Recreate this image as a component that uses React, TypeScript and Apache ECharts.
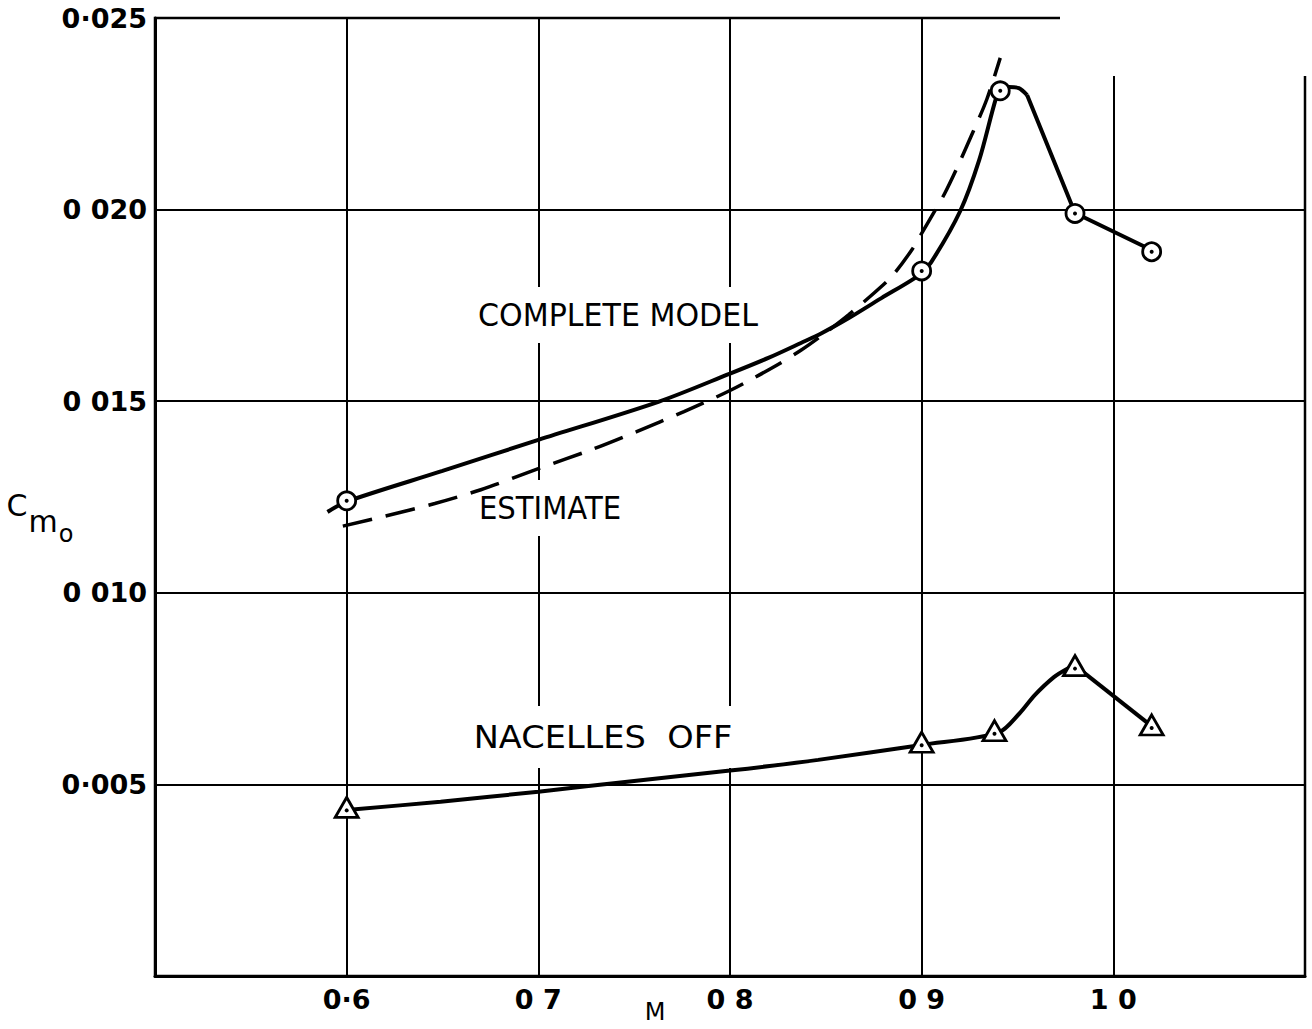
import React, { useEffect, useRef } from "react";
import * as echarts from "echarts";

// Axis ticks and their printed labels
const xTickValues = [0.6, 0.7, 0.8, 0.9, 1.0];
const xTickLabels = ["0·6", "0 7", "0 8", "0 9", "1 0"];
const yTickValues = [0.005, 0.01, 0.015, 0.02, 0.025];
const yTickLabels = ["0·005", "0 010", "0 015", "0 020", "0·025"];

// Measured points (markers)
const completeM = [0.6, 0.9, 0.941, 0.98, 1.02];
const completeCm = [0.0124, 0.0184, 0.0231, 0.0199, 0.0189];
const nacellesM = [0.6, 0.9, 0.938, 0.98, 1.02];
const nacellesCm = [0.0044, 0.0061, 0.0064, 0.0081, 0.00655];

// Faired curve through complete-model points
const completeCurveM = [0.59, 0.6, 0.65, 0.7, 0.763, 0.8, 0.82, 0.837, 0.848, 0.862, 0.879, 0.896, 0.9, 0.905, 0.92, 0.93, 0.939, 0.941, 0.9455, 0.9507, 0.955];
const completeCurveCm = [0.01211, 0.01238, 0.01318, 0.01399, 0.01499, 0.01572, 0.01613, 0.01652, 0.01678, 0.01717, 0.01769, 0.0182, 0.01838, 0.01863, 0.01995, 0.02129, 0.02294, 0.02306, 0.0232, 0.02317, 0.02299];
const completeTailM = [0.955, 0.98, 1.021];
const completeTailCm = [0.02299, 0.01991, 0.01892];

// Estimate (dashed)
const estimateM = [0.598, 0.62, 0.646, 0.67, 0.7, 0.728, 0.751, 0.776, 0.8, 0.823, 0.837, 0.848, 0.862, 0.88, 0.886, 0.895, 0.9, 0.907, 0.912, 0.919, 0.927, 0.934, 0.941];
const estimateCm = [0.01174, 0.012, 0.01233, 0.01269, 0.01324, 0.01374, 0.0142, 0.01473, 0.01528, 0.0159, 0.01633, 0.01672, 0.01726, 0.01804, 0.01835, 0.01896, 0.01938, 0.01998, 0.02042, 0.02115, 0.02205, 0.02288, 0.02396];

// Nacelles off curve
const nacCurveM = [0.6, 0.649, 0.7, 0.75, 0.8, 0.846, 0.9, 0.94, 0.951, 0.959, 0.969, 0.976, 0.98];
const nacCurveCm = [0.00433, 0.00455, 0.00481, 0.00509, 0.00536, 0.00564, 0.00603, 0.00635, 0.00685, 0.00733, 0.0078, 0.00802, 0.0081];
const nacTailM = [0.98, 1.02];
const nacTailCm = [0.0081, 0.00652];

const zip = (a: number[], b: number[]) => a.map((v, i) => [v, b[i]]);
const FONT = '"DejaVu Sans", "Noto Sans", sans-serif';

export default function App() {
  const ref = useRef<HTMLDivElement>(null);
  useEffect(() => {
    if (!ref.current) return;
    const chart = echarts.init(ref.current, undefined, { renderer: "svg" });
    const lineBase = {
      type: "line" as const,
      showSymbol: false,
      silent: true,
      z: 2,
    };
    const tickLabel = {
      fontSize: 27,
      fontWeight: "bold" as const,
      fontFamily: FONT,
      color: "#000",
    };
    const option: any = {
      animation: false,
      backgroundColor: "#fff",
      grid: {
        left: 155,
        top: 18,
        width: 1150,
        height: 958,
        show: true,
        borderColor: "#000",
        borderWidth: 2.5,
      },
      xAxis: {
        type: "value",
        min: 0.5,
        max: 1.1,
        interval: 0.1,
        axisLine: { show: true, onZero: false, lineStyle: { color: "#000", width: 3 } },
        axisTick: { show: false },
        splitLine: { show: true, lineStyle: { color: "#000", width: 2 } },
        axisLabel: {
          ...tickLabel,
          margin: 10,
          formatter: (v: number) => {
            const i = xTickValues.findIndex((t) => Math.abs(t - v) < 1e-6);
            return i >= 0 ? xTickLabels[i] : "";
          },
        },
      },
      yAxis: {
        type: "value",
        min: 0,
        max: 0.025,
        interval: 0.005,
        axisLine: { show: true, onZero: false, lineStyle: { color: "#000", width: 3 } },
        axisTick: { show: false },
        splitLine: { show: true, lineStyle: { color: "#000", width: 2 } },
        axisLabel: {
          ...tickLabel,
          margin: 8,
          formatter: (v: number) => {
            const i = yTickValues.findIndex((t) => Math.abs(t - v) < 1e-7);
            return i >= 0 ? yTickLabels[i] : "";
          },
        },
      },
      series: [
        {
          ...lineBase,
          name: "Complete model",
          data: zip(completeCurveM, completeCurveCm),
          smooth: 0.3,
          lineStyle: { color: "#000", width: 4 },
        },
        {
          ...lineBase,
          name: "Complete model tail",
          data: zip(completeTailM, completeTailCm),
          smooth: false,
          lineStyle: { color: "#000", width: 4 },
        },
        {
          ...lineBase,
          name: "Estimate",
          data: zip(estimateM, estimateCm),
          smooth: 0.3,
          lineStyle: { color: "#000", width: 3.5, type: [30, 14] },
        },
        {
          ...lineBase,
          name: "Nacelles off",
          data: zip(nacCurveM, nacCurveCm),
          smooth: 0.3,
          lineStyle: { color: "#000", width: 4 },
        },
        {
          ...lineBase,
          name: "Nacelles off tail",
          data: zip(nacTailM, nacTailCm),
          smooth: false,
          lineStyle: { color: "#000", width: 4 },
        },
        {
          type: "scatter",
          name: "Complete model points",
          data: zip(completeM, completeCm),
          symbol: "circle",
          symbolSize: 18,
          itemStyle: { color: "#fff", borderColor: "#000", borderWidth: 2.8, opacity: 1 },
          silent: true,
          z: 3,
        },
        {
          type: "scatter",
          name: "Complete model dots",
          data: zip(completeM, completeCm),
          symbol: "circle",
          symbolSize: 4,
          itemStyle: { color: "#000", opacity: 1 },
          silent: true,
          z: 4,
        },
        {
          type: "scatter",
          name: "Nacelles off points",
          data: zip(nacellesM, nacellesCm),
          symbol: "triangle",
          symbolSize: [23, 20],
          itemStyle: { color: "#fff", borderColor: "#000", borderWidth: 2.8, opacity: 1 },
          silent: true,
          z: 3,
        },
        {
          type: "scatter",
          name: "Nacelles off dots",
          data: zip(nacellesM, nacellesCm),
          symbol: "circle",
          symbolSize: 4,
          symbolOffset: [0, 3],
          itemStyle: { color: "#000", opacity: 1 },
          silent: true,
          z: 4,
        },
      ],
      graphic: [
        // open top-right corner of frame
        {
          type: "rect",
          z: 1,
          silent: true,
          shape: { x: 1060, y: 0, width: 260, height: 76 },
          style: { fill: "#fff" },
        },
        {
          type: "text",
          z: 1,
          x: 618,
          y: 315,
          scaleX: 0.94,
          style: {
            text: "COMPLETE MODEL",
            font: `32px ${FONT}`,
            fill: "#000",
            align: "center",
            verticalAlign: "middle",
            backgroundColor: "#fff",
            padding: [12, 10],
          },
        },
        {
          type: "text",
          z: 1,
          x: 550,
          y: 508,
          scaleX: 0.91,
          style: {
            text: "ESTIMATE",
            font: `32px ${FONT}`,
            fill: "#000",
            align: "center",
            verticalAlign: "middle",
            backgroundColor: "#fff",
            padding: [12, 10],
          },
        },
        {
          type: "text",
          z: 1,
          x: 603,
          y: 737,
          scaleX: 1.05,
          style: {
            text: "NACELLES  OFF",
            font: `32px ${FONT}`,
            fill: "#000",
            align: "center",
            verticalAlign: "middle",
            backgroundColor: "#fff",
            padding: [16, 10, 14, 10],
          },
        },
        {
          type: "text",
          z: 5,
          x: 17,
          y: 505,
          style: { text: "C", font: `30px ${FONT}`, fill: "#000", align: "center", verticalAlign: "middle" },
        },
        {
          type: "text",
          z: 5,
          x: 43,
          y: 521,
          style: { text: "m", font: `30px ${FONT}`, fill: "#000", align: "center", verticalAlign: "middle" },
        },
        {
          type: "text",
          z: 5,
          x: 66,
          y: 534,
          style: { text: "o", font: `24px ${FONT}`, fill: "#000", align: "center", verticalAlign: "middle" },
        },
        {
          type: "text",
          z: 5,
          x: 655,
          y: 1012,
          style: { text: "M", font: `24px ${FONT}`, fill: "#000", align: "center", verticalAlign: "middle" },
        },
      ],
    };
    chart.setOption(option);
    return () => chart.dispose();
  }, []);
  return (
    <div
      ref={ref}
      style={{ position: "absolute", left: 0, top: 0, width: 1312, height: 1029, background: "#fff" }}
    />
  );
}
